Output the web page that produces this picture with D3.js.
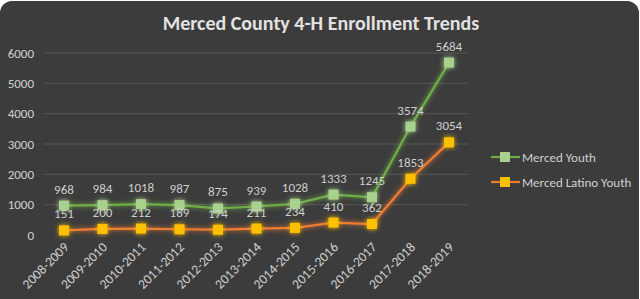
<!DOCTYPE html>
<meta charset="utf-8">
<style>
body { margin: 0; background: #fff; }
text { font-family: Carlito, Lato, "Open Sans", sans-serif; }
</style>
<body>
<script src="https://d3js.org/d3.v7.min.js"></script>
<script>

    // data
    var years = ["2008-2009", "2009-2010", "2010-2011", "2011-2012", "2012-2013", "2013-2014",
                 "2014-2015", "2015-2016", "2016-2017", "2017-2018", "2018-2019"];
    var mercedYouth = [968, 984, 1018, 987, 875, 939, 1028, 1333, 1245, 3574, 5684];
    var latinoYouth = [151, 200, 212, 189, 174, 211, 234, 410, 362, 1853, 3054];
    var yTicks = [0, 1000, 2000, 3000, 4000, 5000, 6000];

    var W = 640, H = 299;

    var series = [
        {name: "Merced Youth", values: mercedYouth, line: "#70ad47", marker: "#a9d18e"},
        {name: "Merced Latino Youth", values: latinoYouth, line: "#ed7d31", marker: "#ffc000"}
    ];

    var svg = d3.select("body").append("svg")
        .attr("width", W)
        .attr("height", H);

    // glow filter
    var defs = svg.append("defs");
    var f = defs.append("filter").attr("id", "glow")
        .attr("x", "-50%").attr("y", "-50%").attr("width", "200%").attr("height", "200%");
    f.append("feGaussianBlur").attr("in", "SourceGraphic").attr("stdDeviation", 2.5).attr("result", "b");
    var m = f.append("feMerge");
    m.append("feMergeNode").attr("in", "b");
    m.append("feMergeNode").attr("in", "SourceGraphic");

    // background panel
    svg.append("rect")
        .attr("x", 0).attr("y", 1)
        .attr("width", W - 1).attr("height", H + 20)
        .attr("rx", 12)
        .attr("fill", "#3c3c3c");

    svg.append("text")
        .attr("x", 321).attr("y", 30)
        .attr("text-anchor", "middle")
        .attr("font-size", "20px")
        .attr("font-weight", "bold")
        .attr("fill", "#e2e2e2")
        .text("Merced County 4-H Enrollment Trends");

    var x = d3.scalePoint().domain(years).range([64, 449]);
    var y = d3.scaleLinear().domain([0, 6000]).range([235, 53]);

    // gridlines
    svg.append("g").selectAll("line")
        .data(yTicks.slice(1))
        .enter().append("line")
        .attr("x1", 44).attr("x2", 468)
        .attr("y1", function (d) { return y(d); })
        .attr("y2", function (d) { return y(d); })
        .attr("stroke", "#575757")
        .attr("stroke-width", 1);

    // y axis
    var yAxis = svg.append("g")
        .attr("transform", "translate(34,0)")
        .call(d3.axisLeft(y).tickValues(yTicks).tickSize(0).tickPadding(0).tickFormat(d3.format("d")));
    yAxis.select(".domain").remove();
    yAxis.selectAll("text").attr("fill", "#d0d0d0").attr("font-size", "13px");

    // x axis
    var xAxis = svg.append("g")
        .attr("transform", "translate(0,235)")
        .call(d3.axisBottom(x).tickSize(0));
    xAxis.select(".domain").remove();
    xAxis.selectAll("text")
        .attr("fill", "#d0d0d0")
        .attr("font-size", "13.5px")
        .attr("text-anchor", "end")
        .attr("dy", null)
        .attr("y", 0)
        .attr("transform", "translate(5,13) rotate(-45)");

    var line = d3.line()
        .x(function (d, i) { return x(years[i]); })
        .y(function (d) { return y(d); });

    series.forEach(function (s) {
        var g = svg.append("g");
        g.append("path")
            .attr("d", line(s.values))
            .attr("fill", "none")
            .attr("stroke", s.line)
            .attr("stroke-width", 2.2)
            .attr("filter", "url(#glow)");
        g.selectAll("rect")
            .data(s.values)
            .enter().append("rect")
            .attr("x", function (d, i) { return x(years[i]) - 5; })
            .attr("y", function (d) { return y(d) - 5; })
            .attr("width", 10).attr("height", 10)
            .attr("fill", s.marker)
            .attr("filter", "url(#glow)");
    });

    series.forEach(function (s) {
        svg.append("g").selectAll("text")
            .data(s.values)
            .enter().append("text")
            .attr("x", function (d, i) { return x(years[i]); })
            .attr("y", function (d) { return y(d) - 12; })
            .attr("text-anchor", "middle")
            .attr("font-size", "13px")
            .attr("fill", "#cfcfcf")
            .text(function (d) { return d; });
    });

    // legend
    var legend = svg.append("g").selectAll("g")
        .data(series)
        .enter().append("g")
        .attr("transform", function (d, i) { return "translate(491," + (157 + i * 25) + ")"; });
    legend.append("line")
        .attr("x1", 0).attr("x2", 29)
        .attr("stroke", function (d) { return d.line; })
        .attr("stroke-width", 2.2);
    legend.append("rect")
        .attr("x", 9).attr("y", -5)
        .attr("width", 10).attr("height", 10)
        .attr("fill", function (d) { return d.marker; });
    legend.append("text")
        .attr("x", 31).attr("y", 4.5)
        .attr("font-size", "13px")
        .attr("fill", "#d0d0d0")
        .text(function (d) { return d.name; });

</script>
</body>
